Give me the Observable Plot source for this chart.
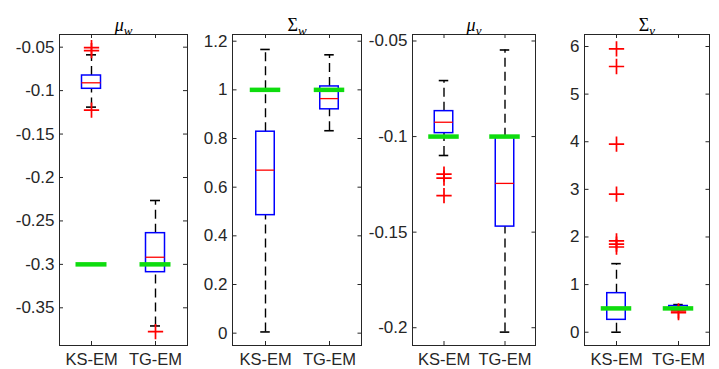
<!DOCTYPE html>
<html><head><meta charset="utf-8">
<script src="https://cdn.jsdelivr.net/npm/d3@7"></script>
<script src="https://cdn.jsdelivr.net/npm/@observablehq/plot@0.6"></script>
<style>
body{margin:0;background:#fff;}
#chart{position:relative;width:719px;height:369px;}
#chart svg{position:absolute;left:0;top:0;}
.ttl{position:absolute;top:15px;font-family:"Liberation Serif","Times New Roman",serif;font-size:18px;line-height:20px;color:#000;transform:translateX(-50%);white-space:nowrap;}
.ttl sub{font-size:13px;font-style:italic;vertical-align:-4px;line-height:0;}
</style></head><body><div id="chart"></div>
<script>
// ---- data ----
const methods = ["KS-EM", "TG-EM"];
const titleSymbols = ["μ", "Σ", "μ", "Σ"];
const titleSubs = ["w", "w", "v", "v"];

// box stats order: lower whisker, Q1, median, Q3, upper whisker
const muW_KS = [-0.119, -0.0979, -0.0910, -0.0826, -0.0588];
const muW_TG = [-0.3709, -0.309, -0.2918, -0.2641, -0.2265];
const muW_outKS = [-0.0505, -0.054, -0.1225];
const muW_outTG = [-0.3775];
const muW_truth = [-0.3, -0.3];
const muW_ticks = [-0.35, -0.3, -0.25, -0.2, -0.15, -0.1, -0.05];
const muW_labels = ["-0.35", "-0.3", "-0.25", "-0.2", "-0.15", "-0.1", "-0.05"];

const sigW_KS = [0.005, 0.485, 0.670, 0.828, 1.166];
const sigW_TG = [0.832, 0.920, 0.964, 1.014, 1.144];
const sigW_outKS = [];
const sigW_outTG = [];
const sigW_truth = [1, 1];
const sigW_ticks = [0, 0.2, 0.4, 0.6, 0.8, 1, 1.2];
const sigW_labels = ["0", "0.2", "0.4", "0.6", "0.8", "1", "1.2"];

const muV_KS = [-0.1099, -0.0982, -0.0925, -0.0867, -0.0707];
const muV_TG = [-0.2023, -0.1471, -0.1245, -0.1003, -0.0547];
const muV_outKS = [-0.1196, -0.1217, -0.1309];
const muV_outTG = [];
const muV_truth = [-0.1, -0.1];
const muV_ticks = [-0.2, -0.15, -0.1, -0.05];
const muV_labels = ["-0.2", "-0.15", "-0.1", "-0.05"];

const sigV_KS = [0.0, 0.26, 0.49, 0.82, 1.44];
const sigV_TG = [0.46, 0.48, 0.51, 0.55, 0.58];
const sigV_outKS = [5.95, 5.58, 3.95, 2.90, 1.92, 1.85, 1.79];
const sigV_outTG = [0.41, 0.45];
const sigV_truth = [0.5, 0.5];
const sigV_ticks = [0, 1, 2, 3, 4, 5, 6];
const sigV_labels = ["0", "1", "2", "3", "4", "5", "6"];

// ---- layout ----
const W = 719, H = 369, TOP = 34, BOTTOM = 345;
const BOX_W = 19, CAP_W = 10, GREEN_W = 31, TICK = 4;
const GREEN = "#0edc0e", AXIS = "#262626";
const FONT = "'Liberation Sans', Arial, Helvetica, sans-serif";
const FS = 17, FSX = 16.5;

const panels = [
  {L: 59, R: 187, domain: [-0.3934, -0.0354], ks: muW_KS, tg: muW_TG, outKS: muW_outKS, outTG: muW_outTG, truth: muW_truth, ticks: muW_ticks, labels: muW_labels},
  {L: 232, R: 361, domain: [-0.0507, 1.2275], ks: sigW_KS, tg: sigW_TG, outKS: sigW_outKS, outTG: sigW_outTG, truth: sigW_truth, ticks: sigW_ticks, labels: sigW_labels},
  {L: 412, R: 535, domain: [-0.2093, -0.0466], ks: muV_KS, tg: muV_TG, outKS: muV_outKS, outTG: muV_outTG, truth: muV_truth, ticks: muV_ticks, labels: muV_labels},
  {L: 584, R: 709, domain: [-0.279, 6.252], ks: sigV_KS, tg: sigV_TG, outKS: sigV_outKS, outTG: sigV_outTG, truth: sigV_truth, ticks: sigV_ticks, labels: sigV_labels}
];

function panel(cfg) {
  const {L, R, domain, ks, tg, outKS, outTG, truth, ticks, labels} = cfg;
  const bw = (R - L) / 2;
  const stats = [ks, tg].map((s, i) => ({method: methods[i], lw: s[0], q1: s[1], med: s[2], q3: s[3], uw: s[4], truth: truth[i]}));
  const outs = [...outKS.map(v => ({method: methods[0], v})), ...outTG.map(v => ({method: methods[1], v}))];
  const bi = (bw - BOX_W) / 2, ci = (bw - CAP_W) / 2, gi = (bw - GREEN_W) / 2;
  const span = BOTTOM - TOP;
  return Plot.plot({
    width: W, height: H,
    marginLeft: L, marginRight: W - R, marginTop: TOP, marginBottom: H - BOTTOM,
    style: {background: "transparent", overflow: "visible", fontFamily: FONT, fontSize: FS + "px", color: AXIS},
    x: {type: "band", domain: methods, padding: 0, axis: null, label: null},
    y: {domain, axis: null, label: null},
    marks: [
      Plot.ruleX(stats, {x: "method", y1: "q3", y2: "uw", stroke: "black", strokeWidth: 1.4, strokeDasharray: "9,5"}),
      Plot.ruleX(stats, {x: "method", y1: "lw", y2: "q1", stroke: "black", strokeWidth: 1.4, strokeDasharray: "9,5"}),
      Plot.tickY(stats, {x: "method", y: "uw", insetLeft: ci, insetRight: ci, stroke: "black", strokeWidth: 1.6}),
      Plot.tickY(stats, {x: "method", y: "lw", insetLeft: ci, insetRight: ci, stroke: "black", strokeWidth: 1.6}),
      Plot.barY(stats, {x: "method", y1: "q1", y2: "q3", insetLeft: bi, insetRight: bi, fill: "none", stroke: "blue", strokeWidth: 1.5}),
      Plot.tickY(stats, {x: "method", y: "med", insetLeft: bi, insetRight: bi, stroke: "red", strokeWidth: 1.3}),
      Plot.dot(outs, {x: "method", y: "v", symbol: "plus", r: 5, stroke: "red", strokeWidth: 1.7}),
      Plot.tickY(stats, {x: "method", y: "truth", insetLeft: gi, insetRight: gi, stroke: GREEN, strokeWidth: 4.5}),
      Plot.frame({stroke: AXIS, strokeWidth: 1}),
      Plot.tickY(ticks, {y: d => d, x: () => methods[0], insetRight: bw - TICK, stroke: AXIS}),
      Plot.tickY(ticks, {y: d => d, x: () => methods[1], insetLeft: bw - TICK, stroke: AXIS}),
      Plot.tickX(methods, {x: d => d, insetTop: span - TICK, stroke: AXIS}),
      Plot.tickX(methods, {x: d => d, insetBottom: span - TICK, stroke: AXIS}),
      Plot.axisY({ticks, tickFormat: d => labels[ticks.indexOf(d)], tickSize: 0, tickPadding: 5, fontSize: FS, fill: AXIS, label: null}),
      Plot.axisX({tickSize: 0, tickPadding: 8, fontSize: FSX, fill: AXIS, label: null})
    ]
  });
}

const chart = document.getElementById("chart");
panels.forEach((p, i) => {
  chart.appendChild(panel(p));
  const t = document.createElement("div");
  t.className = "ttl";
  t.style.left = ((p.L + p.R) / 2 + 0.5) + "px";
  const sym = document.createElement("span");
  sym.textContent = titleSymbols[i];
  if (titleSymbols[i] === "μ") sym.style.fontStyle = "italic";
  const sub = document.createElement("sub");
  sub.textContent = titleSubs[i];
  t.appendChild(sym); t.appendChild(sub);
  chart.appendChild(t);
});
</script></body></html>
